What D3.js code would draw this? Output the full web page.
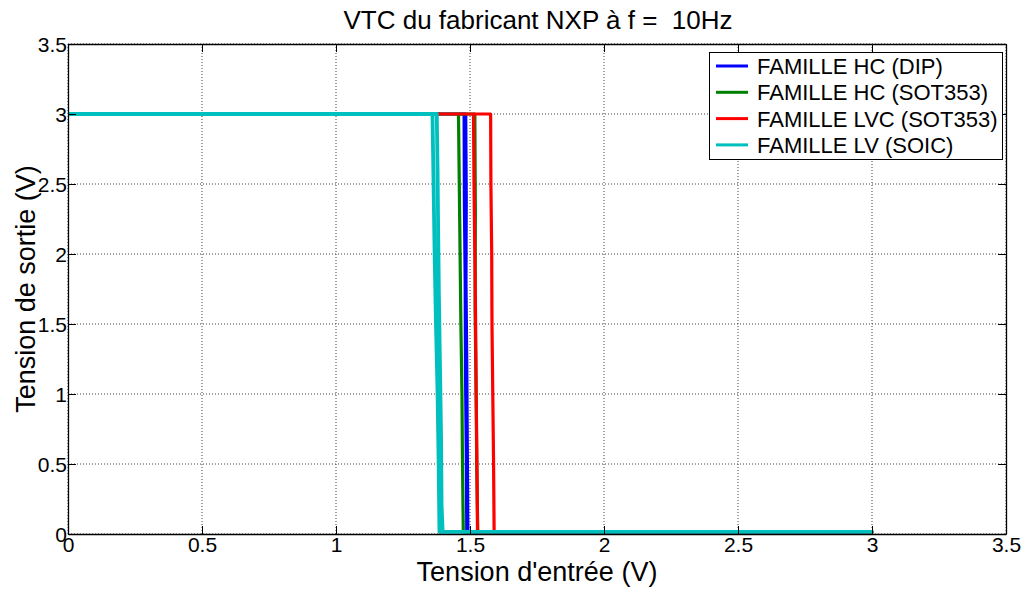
<!DOCTYPE html>
<html><head><meta charset="utf-8">
<script src="https://cdn.jsdelivr.net/npm/d3@7"></script>
<style>body{margin:0;background:#fff} text{font-family:"Liberation Sans",Arial,sans-serif;fill:#000;white-space:pre}</style>
</head><body><svg id="c" width="1028" height="590"></svg>
<script>
const title = "VTC du fabricant NXP à f =  10Hz";
const xLabel = "Tension d'entrée (V)";
const yLabel = "Tension de sortie (V)";
const xTicks = [0, 0.5, 1, 1.5, 2, 2.5, 3, 3.5];
const yTicks = [0, 0.5, 1, 1.5, 2, 2.5, 3, 3.5];
const xTickLabels = ["0", "0.5", "1", "1.5", "2", "2.5", "3", "3.5"];
const yTickLabels = ["0", "0.5", "1", "1.5", "2", "2.5", "3", "3.5"];
const seriesNames = ["FAMILLE HC (DIP)", "FAMILLE HC (SOT353)", "FAMILLE LVC (SOT353)", "FAMILLE LV (SOIC)"];
const seriesColors = ["#0000ff", "#008000", "#ff0000", "#00bfbf"];

// input sweep up then back down (hysteresis loop)
const hcDipX = [0, 1.484, 1.486, 1.485, 1.488, 1.490, 1.492, 3, 1.488, 1.486, 1.483, 1.482, 1.479, 1.478, 0];
const hcDipY = [3, 3, 2.4, 1.8, 1.2, 0.6, 0.015, 0.015, 0.015, 0.6, 1.2, 1.8, 2.4, 3, 3];
const hcSotX = [0, 1.518, 1.520, 1.519, 1.523, 1.525, 1.529, 3, 1.475, 1.472, 1.470, 1.466, 1.463, 1.460, 1.457, 0];
const hcSotY = [3, 3, 2.3, 1.6, 1.0, 0.5, 0.015, 0.015, 0.015, 0.5, 1.0, 1.5, 2.0, 2.5, 3, 3];
const lvcSotX = [0, 1.577, 1.578, 1.581, 1.582, 1.585, 1.588, 1.590, 3, 1.528, 1.526, 1.523, 1.521, 1.518, 1.515, 1.513, 0];
const lvcSotY = [3, 3, 2.5, 2.0, 1.5, 1.0, 0.5, 0.015, 0.015, 0.015, 0.5, 1.0, 1.5, 2.0, 2.5, 3, 3];
const lvSoicX = [0, 1.376, 1.379, 1.381, 1.384, 1.388, 1.392, 1.394, 1.398, 3, 1.386, 1.383, 1.379, 1.373, 1.368, 1.364, 1.360, 0];
const lvSoicY = [3, 3, 2.6, 2.2, 1.7, 1.2, 0.7, 0.2, 0.015, 0.015, 0.015, 0.5, 1.0, 1.5, 2.0, 2.5, 3, 3];
const seriesX = [hcDipX, hcSotX, lvcSotX, lvSoicX];
const seriesY = [hcDipY, hcSotY, lvcSotY, lvSoicY];

const svg = d3.select("#c");
const L = 68, R = 1006, T = 44, B = 534;
const x = d3.scaleLinear().domain([0, 3.5]).range([L, R]);
const y = d3.scaleLinear().domain([0, 3.5]).range([B, T]);

svg.append("rect").attr("width", 1028).attr("height", 590).attr("fill", "#fff");

// grid
const grid = svg.append("g");
xTicks.forEach(t => grid.append("line").attr("x1", x(t)).attr("x2", x(t)).attr("y1", T).attr("y2", B)
  .attr("stroke", "#222").attr("stroke-width", 1).attr("stroke-dasharray", "1,2").attr("opacity", 0.85));
yTicks.forEach(t => grid.append("line").attr("y1", y(t)).attr("y2", y(t)).attr("x1", L).attr("x2", R)
  .attr("stroke", "#222").attr("stroke-width", 1).attr("stroke-dasharray", "1,2").attr("opacity", 0.85));

// series
const line = d3.line().x(d => x(d[0])).y(d => y(d[1]));
seriesX.forEach((xs, i) => {
  const pts = xs.map((v, j) => [v, seriesY[i][j]]);
  svg.append("path").attr("d", line(pts)).attr("fill", "none")
    .attr("stroke", seriesColors[i]).attr("stroke-width", i === 3 ? 3.8 : 3.2).attr("stroke-linejoin", "round");
});

// axes
const fs = 21;
const xAxis = d3.axisBottom(x).tickValues(xTicks).tickFormat((d, i) => xTickLabels[i]).tickSizeInner(-8).tickSizeOuter(0).tickPadding(3);
const yAxis = d3.axisLeft(y).tickValues(yTicks).tickFormat((d, i) => yTickLabels[i]).tickSizeInner(-8).tickSizeOuter(0).tickPadding(1);
const gx = svg.append("g").attr("transform", `translate(0,${B})`).call(xAxis);
const gy = svg.append("g").attr("transform", `translate(${L},0)`).call(yAxis);
const gxt = svg.append("g").attr("transform", `translate(0,${T})`).call(d3.axisTop(x).tickValues(xTicks).tickFormat("").tickSizeInner(-8).tickSizeOuter(0));
const gyr = svg.append("g").attr("transform", `translate(${R},0)`).call(d3.axisRight(y).tickValues(yTicks).tickFormat("").tickSizeInner(-8).tickSizeOuter(0));
[gx, gy, gxt, gyr].forEach(g => {
  g.selectAll("path.domain").attr("stroke", "#000").attr("stroke-width", 1.3);
  g.selectAll(".tick line").attr("stroke", "#000");
  g.selectAll("text").attr("font-size", fs).attr("font-family", "Liberation Sans, Arial, sans-serif").attr("fill", "#000");
});
gx.selectAll("text").attr("y", 3).attr("dy", "0.71em");
gy.selectAll("text").attr("x", -1).attr("dy", "0.36em");

// titles
svg.append("text").attr("x", (L + R) / 2 + 1).attr("y", 29).attr("text-anchor", "middle").attr("font-size", 26).text(title);
svg.append("text").attr("x", (L + R) / 2).attr("y", 581).attr("text-anchor", "middle").attr("font-size", 27).text(xLabel);
svg.append("text").attr("transform", `translate(35,${(T + B) / 2}) rotate(-90)`).attr("text-anchor", "middle").attr("font-size", 27).text(yLabel);

// legend
const lg = svg.append("g");
lg.append("rect").attr("x", 709.5).attr("y", 52.5).attr("width", 293).attr("height", 107).attr("fill", "#fff").attr("stroke", "#000").attr("stroke-width", 1);
seriesNames.forEach((n, i) => {
  const cy = 66 + i * 26.3;
  lg.append("line").attr("x1", 716).attr("x2", 748).attr("y1", cy).attr("y2", cy).attr("stroke", seriesColors[i]).attr("stroke-width", 3);
  lg.append("text").attr("x", 757).attr("y", cy).attr("dy", "0.36em").attr("font-size", 22).text(n);
});
</script></body></html>
